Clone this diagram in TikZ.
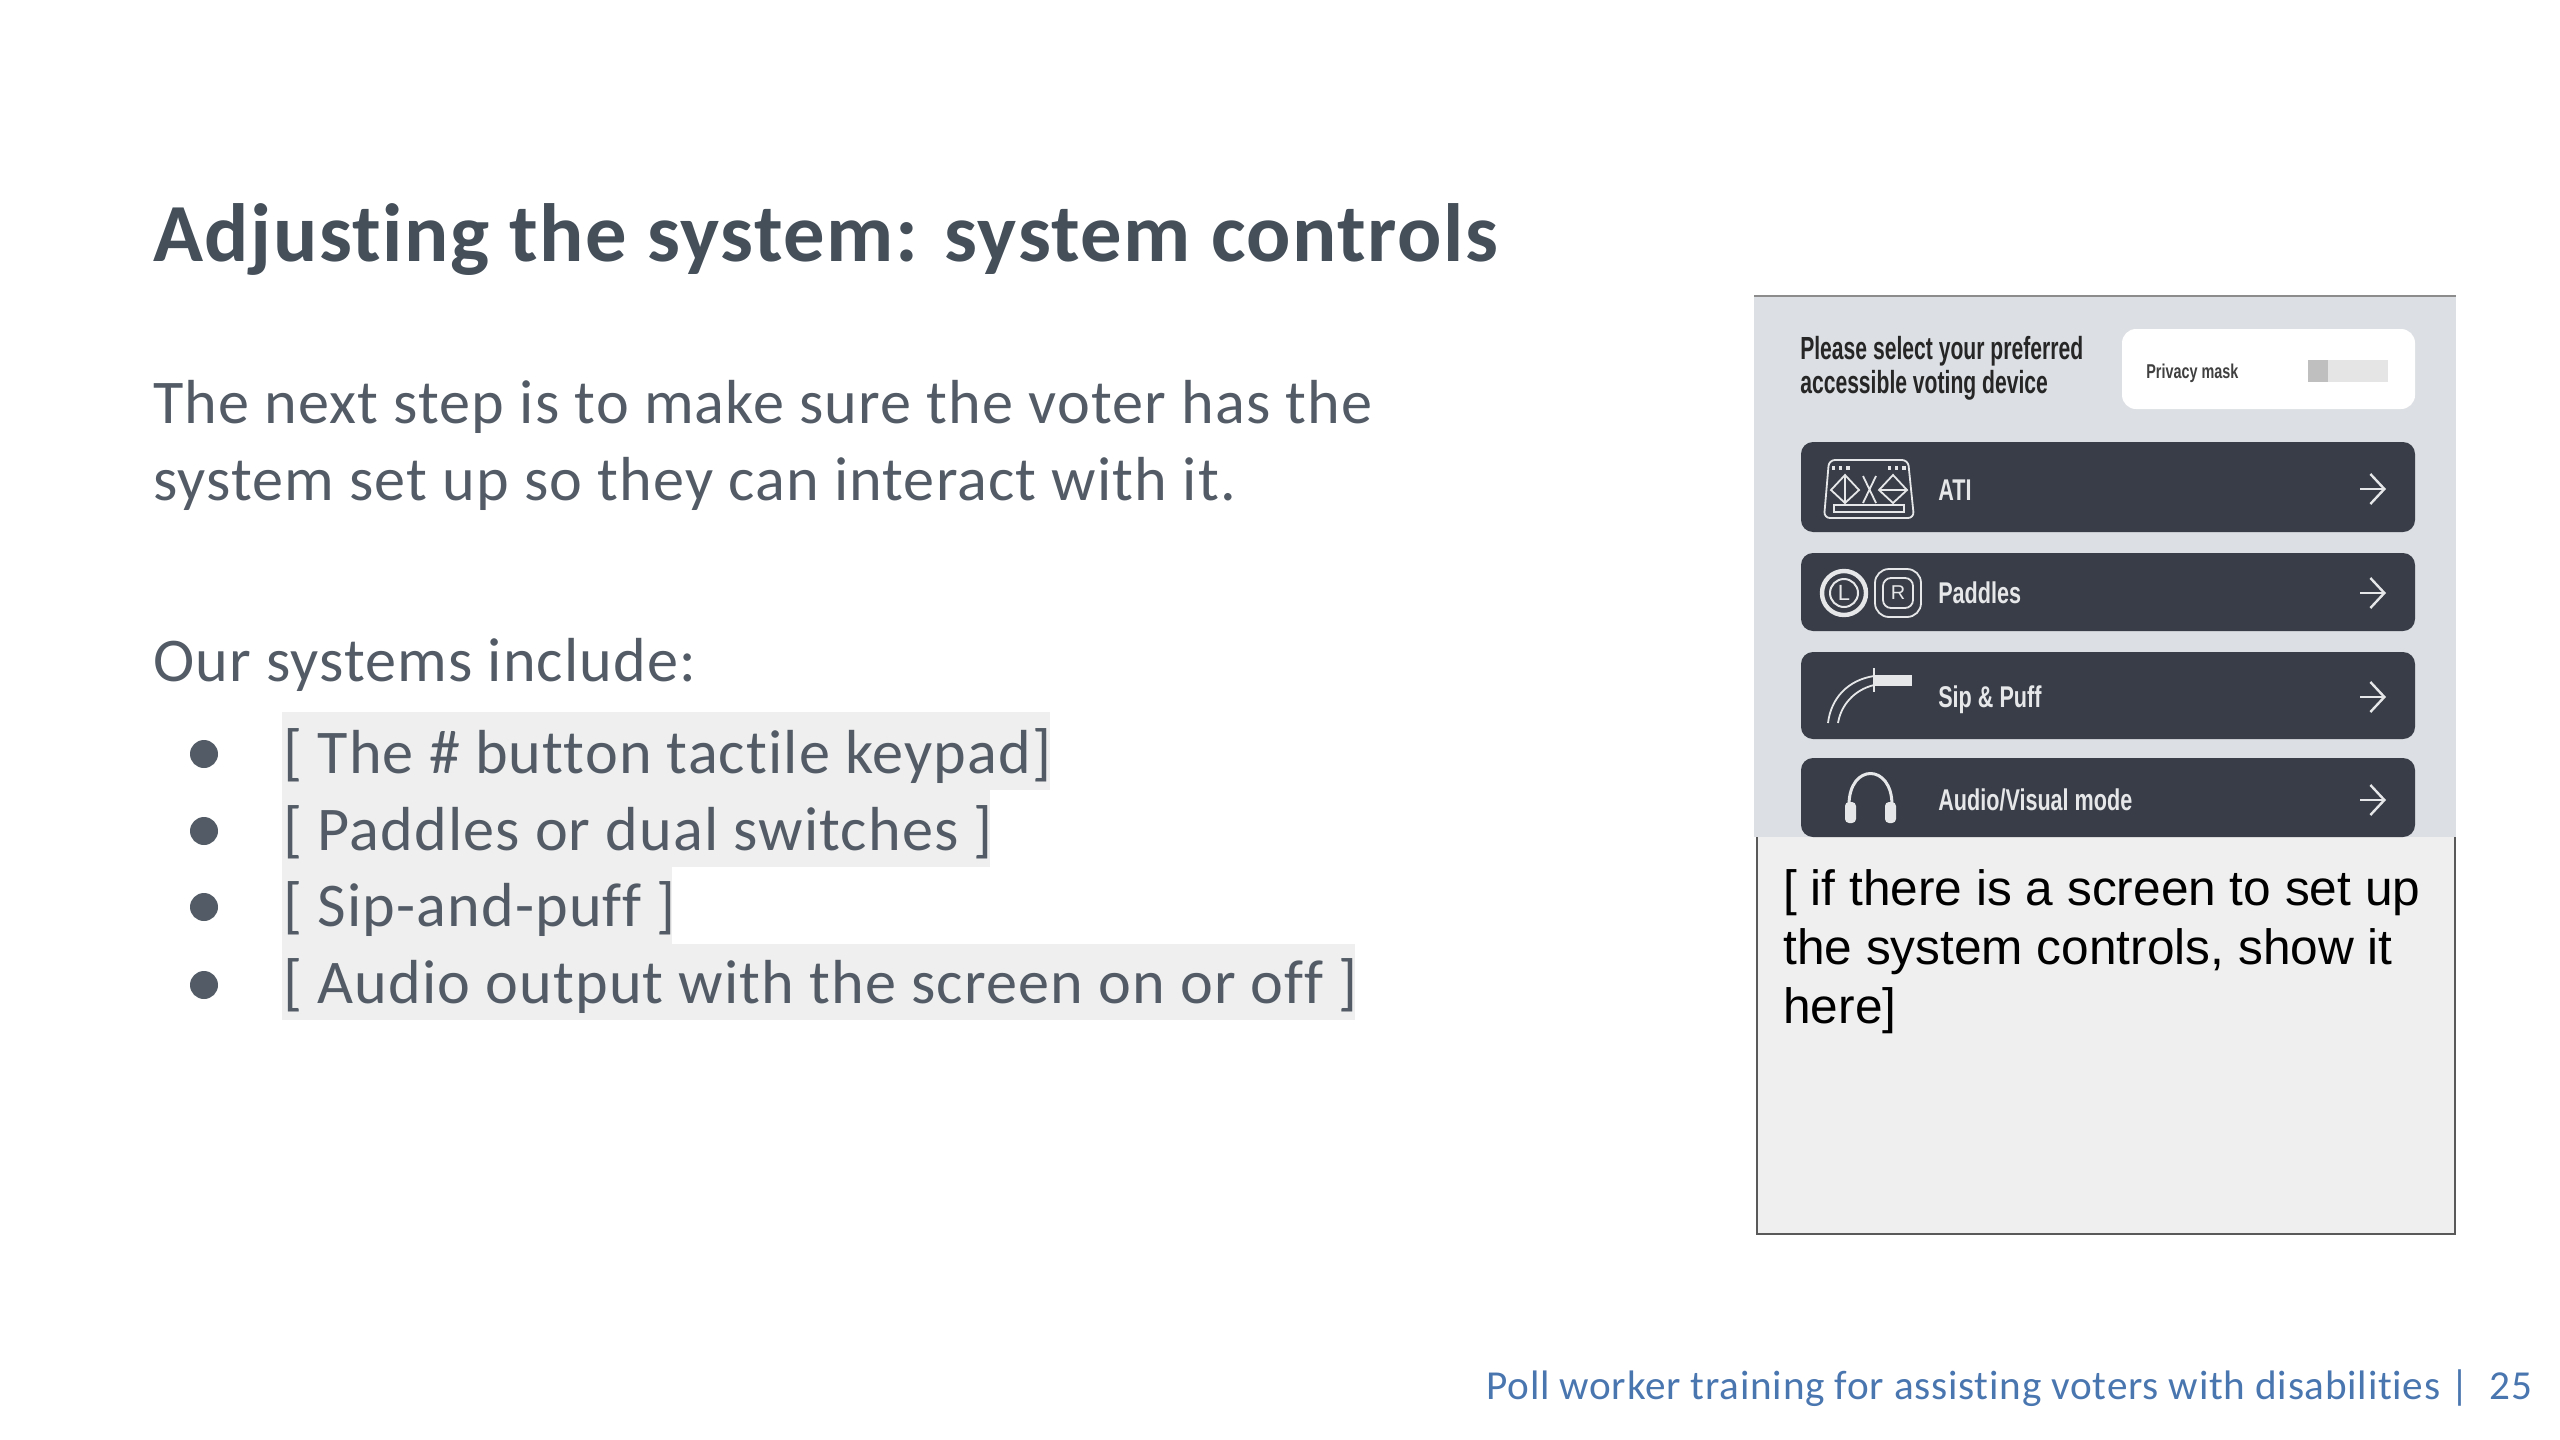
\documentclass[tikz,border=0pt]{standalone}
\usepackage{fontspec}
\usetikzlibrary{arrows.meta}
\setmainfont[LetterSpace=1.8,Ligatures=NoCommon]{Carlito}
\newfontfamily\arialfont{Liberation Sans}
\definecolor{slidetitle}{HTML}{444F5A}
\definecolor{slidebody}{HTML}{535C66}
\definecolor{slidefoot}{HTML}{4A76B0}
\definecolor{noteback}{HTML}{EFEFEF}
\definecolor{panelback}{HTML}{DCDFE3}
\definecolor{btnback}{HTML}{383D47}
\definecolor{btnink}{HTML}{E6E7E9}
\tikzset{
	bodytext/.style={anchor=base west, inner sep=0pt, text=slidebody, font=\fontsize{31.1}{36}\selectfont},
	notetext/.style={anchor=base west, inner sep=0pt, text=black, font=\arialfont\fontsize{24.8}{29}\selectfont},
	bulletdot/.style={circle, fill=slidebody, inner sep=0pt, minimum size=14pt},
	btnbox/.style={fill=btnback, rounded corners=6pt},
	btnlabel/.style={anchor=base west, inner sep=0pt, text=btnink, xscale=0.72, transform shape, font=\arialfont\bfseries\fontsize{15}{18}\selectfont},
	panellabel/.style={anchor=base west, inner sep=0pt, text=black!85, xscale=0.66, transform shape, font=\arialfont\bfseries\fontsize{16}{19}\selectfont},
	btnarrow/.style={btnink, line width=1.2pt, -{Straight Barb[length=7pt,width=15pt]}},
	iconline/.style={btnink, line width=0.9pt},
}
\begin{document}
\begin{tikzpicture}[x=0.5pt, y=-0.5pt]
	\useasboundingbox (0,0) rectangle (2560,1440);
	% left side
	\node[anchor=base west, inner sep=0pt, text=slidetitle, font=\bfseries\fontsize{41.3}{46}\selectfont] (title) at (153,261) {Adjusting the system: system controls};
	\node[bodytext] (introa) at (153,423) {The next step is to make sure the voter has the};
	\node[bodytext] (introb) at (153,500) {system set up so they can interact with it.};
	\node[bodytext] (include) at (153,681) {Our systems include:};
	\fill[noteback] (282,712) rectangle (1050,790);
	\fill[noteback] (282,790) rectangle (990,867);
	\fill[noteback] (282,867) rectangle (672,944);
	\fill[noteback] (282,944) rectangle (1355,1020);
	\node[bulletdot] (dota) at (204,754) {};
	\node[bulletdot] (dotb) at (204,831) {};
	\node[bulletdot] (dotc) at (204,907) {};
	\node[bulletdot] (dotd) at (204,985) {};
	\node[bodytext] (itema) at (283,773) {[ The \# button tactile keypad]};
	\node[bodytext] (itemb) at (283,850) {[ Paddles or dual switches ]};
	\node[bodytext] (itemc) at (283,926) {[ Sip-and-puff ]};
	\node[bodytext] (itemd) at (283,1003) {[ Audio output with the screen on or off ]};
	% footer
	\node[anchor=base west, inner sep=0pt, text=slidefoot, font=\fontsize{20.6}{25}\selectfont] (foot) at (1486,1399) {Poll worker training for assisting voters with disabilities | \ 25};
	% note box
	\draw[fill=noteback, draw=black!65, line width=1pt] (1757,820) rectangle (2455,1234);
	\node[notetext] (notea) at (1783,905) {[ if there is a screen to set up};
	\node[notetext] (noteb) at (1783,964) {the system controls, show it};
	\node[notetext] (notec) at (1783,1023) {here]};
	% screenshot
	\fill[panelback] (1754,296) rectangle (2456,837);
	\draw[black!45, line width=0.8pt] (1754,296) -- (2456,296);
	\node[panellabel] (asktop) at (1800,359) {Please select your preferred};
	\node[panellabel] (askbot) at (1800,393) {accessible voting device};
	\fill[white, rounded corners=7pt] (2122,329) rectangle (2415,409);
	\node[anchor=base west, inner sep=0pt, text=black!75, xscale=0.72, transform shape, font=\arialfont\bfseries\fontsize{10}{12}\selectfont] (privacy) at (2146,378) {Privacy mask};
	\fill[black!10] (2308,360) rectangle (2388,382);
	\fill[black!25] (2308,360) rectangle (2328,382);
	\fill[btnbox] (1801,442) rectangle (2415,532);
	\fill[btnbox] (1801,553) rectangle (2415,631);
	\fill[btnbox] (1801,652) rectangle (2415,739);
	\fill[btnbox] (1801,758) rectangle (2415,837);
	\node[btnlabel] (ati) at (1938,500) {ATI};
	\node[btnlabel] (paddles) at (1938,603) {Paddles};
	\node[btnlabel] (sip) at (1938,707) {Sip \& Puff};
	\node[btnlabel] (audio) at (1938,810) {Audio/Visual mode};
	\foreach \y/\nm in {489/a, 593/b, 697/c, 800/d}{
		\coordinate (tail\nm) at (2360,\y);
		\coordinate (tip\nm) at (2386,\y);
		\draw[btnarrow] (tail\nm) -- (tip\nm);
	}
	% keypad icon
	\draw[iconline, rounded corners=3pt] (1829,460) -- (1908,460) -- (1914,518) -- (1824,518) -- cycle;
	\draw[iconline] (1834,505) rectangle (1904,512);
	\draw[iconline] (1845,475) -- (1859,490) -- (1845,503) -- (1831,490) -- cycle (1845,475) -- (1845,503);
	\draw[iconline] (1893,475) -- (1907,490) -- (1893,503) -- (1879,490) -- cycle (1879,490) -- (1907,490);
	\draw[iconline] (1863,476) -- (1876,503) (1876,476) -- (1863,503);
	\draw[iconline, line width=1.6pt, dotted] (1832,468) -- (1850,468) (1888,468) -- (1906,468);
	% paddles icon
	\draw[btnink, line width=2.2pt] (1844,593) circle (22);
	\draw[btnink, line width=1pt] (1844,593) circle (14);
	\node[inner sep=0pt, text=btnink, font=\arialfont\fontsize{11}{13}\selectfont] (leftkey) at (1844,593) {L};
	\draw[iconline, rounded corners=7pt] (1875,569) rectangle (1921,617);
	\draw[iconline, rounded corners=4pt] (1883,578) rectangle (1913,608);
	\node[inner sep=0pt, text=btnink, font=\arialfont\fontsize{10}{12}\selectfont] (rightkey) at (1898,593) {R};
	% sip and puff icon
	\draw[iconline] (1828,723) .. controls (1831,698) and (1848,680) .. (1874,676);
	\draw[iconline] (1838,723) .. controls (1841,705) and (1854,690) .. (1874,685);
	\fill[btnink] (1874,675) rectangle (1912,686);
	\draw[iconline] (1874,668) -- (1874,692);
	% headphones icon
	\draw[btnink, line width=1.5pt] (1849,805) .. controls (1849,763) and (1892,763) .. (1892,805);
	\fill[btnink, rounded corners=2pt] (1845,802) rectangle (1856,823);
	\fill[btnink, rounded corners=2pt] (1885,802) rectangle (1896,823);
\end{tikzpicture}
\end{document}
